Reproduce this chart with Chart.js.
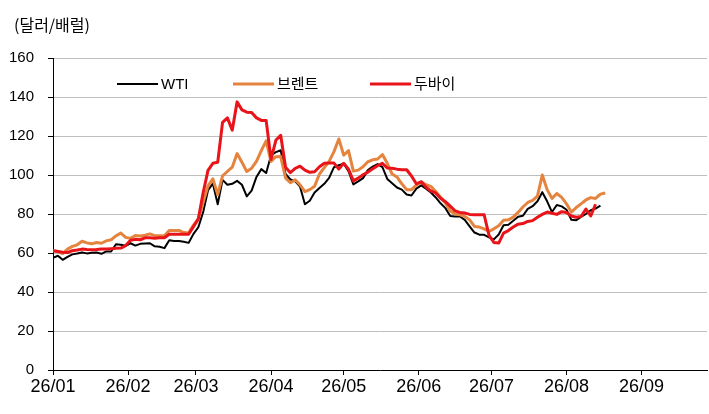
<!DOCTYPE html>
<html>
<head>
<meta charset="utf-8">
<script src="https://cdn.jsdelivr.net/npm/chart.js@4.4.1/dist/chart.umd.min.js"></script>
<style>
  html, body { margin: 0; padding: 0; background: #fff; }
  #wrap { width: 709px; height: 414px; }
</style>
</head>
<body>
<div id="wrap"><canvas id="oilChart" width="709" height="414"></canvas></div>
<script>
// 2026 daily prices (USD/bbl), sampled every 2 days
const dates = [
  '01-01','01-03','01-05','01-07','01-09','01-11','01-13','01-15','01-17','01-19','01-21','01-23','01-25','01-27','01-29','01-31',
  '02-02','02-04','02-06','02-08','02-10','02-12','02-14','02-16','02-18','02-20','02-22','02-24','02-26','02-28',
  '03-02','03-04','03-06','03-08','03-10','03-12','03-14','03-16','03-18','03-20','03-22','03-24','03-26','03-28','03-30',
  '04-01','04-03','04-05','04-07','04-09','04-11','04-13','04-15','04-17','04-19','04-21','04-23','04-25','04-27','04-29',
  '05-01','05-03','05-05','05-07','05-09','05-11','05-13','05-15','05-17','05-19','05-21','05-23','05-25','05-27','05-29','05-31',
  '06-02','06-04','06-06','06-08','06-10','06-12','06-14','06-16','06-18','06-20','06-22','06-24','06-26','06-28','06-30',
  '07-02','07-04','07-06','07-08','07-10','07-12','07-14','07-16','07-18','07-20','07-22','07-24','07-26','07-28','07-30',
  '08-01','08-03','08-05','08-07','08-09','08-11','08-13','08-15','08-17'
];

const wti = [
  57.5, 58.6, 56.5, 58, 59.3, 59.7, 60.3, 59.8, 60.1, 60.3, 59.6, 60.8, 60.8, 64.5, 64.2, 63.7,
  65.0, 63.8, 64.7, 64.9, 65.0, 63.4, 63.2, 62.5, 66.5, 66.2, 66.1, 65.8, 65.2, 69.8,
  73.2, 81, 92.2, 95.6, 85, 97.5, 95, 95.5, 97, 95, 89, 92, 99, 103, 101,
  110, 111.7, 112.7, 100.5, 97.7, 96.8, 94, 85, 86.8, 91, 93.3, 95.5, 98.5, 104, 105,
  105.8, 102, 95.2, 96.7, 98.4, 102.5, 104.3, 105.6, 104, 98, 95.8, 93.6, 92.5, 90, 89.5, 93,
  94.7, 93, 91, 88.5, 85.5, 83, 79, 78.7, 78.7, 77, 73.7, 70.5, 69.4, 69.3, 68,
  67, 69.5, 74.2, 74.5, 76.5, 78.6, 79.1, 82.6, 84, 86.5, 91.2, 86.5, 81, 84.6, 83.9,
  82.2, 77, 76.8, 78.5, 80, 81.9, 82.8, 84.3, null
];

const brent = [
  61.2, 60.8, 59.7, 62, 63.4, 64.2, 66, 65.2, 64.7, 65.4, 65, 66.2, 66.8, 68.8, 70.2, 68,
  67.5, 69, 68.7, 69.1, 69.8, 68.9, 68.8, 68.8, 71.6, 71.6, 71.6, 70.5, 70.3, 74.3,
  77.5, 86, 94.4, 98, 90, 99.5, 101.8, 104, 111, 106.5, 101.8, 103.5, 107, 112.5, 117.5,
  107, 109.4, 109.5, 98.5, 96, 97.5, 95, 91.5, 92.5, 94.2, 100.5, 103.8, 107, 112, 118.5,
  110.2, 112.5, 102, 102.5, 104.2, 106.8, 107.8, 108.2, 110.5, 106, 100.5, 99, 95.5, 92.5, 92.5, 94.8,
  96.5, 95, 94.2, 91.5, 88.6, 85.7, 81.6, 80, 79.6, 78.8, 77, 73.6, 73.3, 72.4, 71,
  72.4, 74, 76.8, 77, 78.4, 80.8, 83.6, 85.9, 87, 89.2, 100, 92.5, 88, 90.5, 88.5,
  85.2, 81, 83.3, 85.2, 87.2, 88.4, 88, 90.2, 90.8
];

const dubai = [
  61.2, 60.8, 60.4, 60.2, 61.2, 61.5, 62, 61.8, 61.7, 61.8, 62, 62, 62.2, 62.4, 62.5, 63.8,
  66.5, 67, 66.8, 67.8, 67.8, 67.6, 67.8, 67.8, 69.6, 69.6, 69.6, 69.6, 69.6, 73.5,
  77.5, 91, 102.4, 106, 106.5, 127, 129.3, 123, 137.5, 133.4, 132.2, 132, 129.3, 128, 128,
  108, 117.8, 120.4, 104, 101.2, 103.4, 104.5, 102.5, 101.4, 101.7, 104.2, 106, 106.1, 106.1, 103,
  106, 103, 97, 98.4, 100.1, 101.5, 103.2, 104.8, 106, 103.6, 103.5, 103, 102.7, 102.7, 99.5, 95.5,
  96.5, 93.8, 91.8, 90.8, 88.1, 86.3, 84, 81.6, 80.8, 80.5, 79.8, 79.6, 79.6, 79.6, 69,
  65.4, 65.1, 70.2, 71.5, 73.3, 74.8, 75.1, 76.2, 76.6, 78.3, 79.8, 81, 80.4, 79.8, 81.2,
  80.8, 79, 78.3, 78.7, 82.5, 79, 85, null, null
];

const tickDates = ['01-01', '02-01', '03-01', '04-01', '05-01', '06-01', '07-01', '08-01', '09-01'];
const tickLabels = ['26/01', '26/02', '26/03', '26/04', '26/05', '26/06', '26/07', '26/08', '26/09'];

// days since 2026-01-01
function dayOf(md) {
    const [m, d] = md.split('-').map(Number);
    return (Date.UTC(2026, m - 1, d) - Date.UTC(2026, 0, 1)) / 86400000;
}
const days = dates.map(dayOf);
const tickDays = tickDates.map(dayOf);
const toPoints = values => values.map((v, i) => ({ x: days[i], y: v }));

// title + legend inside the plot, like the original
const headerPlugin = {
    id: 'header',
    afterDraw(chart) {
        const ctx = chart.ctx;
        ctx.save();
        ctx.fillStyle = '#000';
        ctx.textBaseline = 'middle';
        ctx.font = '16px "Noto Sans CJK KR"';
        ctx.fillText('(달러/배럴)', 14, 25);

        const starts = [117, 233, 370];
        chart.data.datasets.forEach((ds, i) => {
            const x = starts[i], y = 84;
            ctx.strokeStyle = ds.borderColor;
            ctx.lineWidth = ds.borderWidth;
            ctx.beginPath();
            ctx.moveTo(x, y);
            ctx.lineTo(x + 41, y);
            ctx.stroke();
            ctx.font = '15px "Liberation Sans", "Noto Sans CJK KR"';
            ctx.fillText(ds.label, x + 44, y + 1);
        });
        ctx.restore();
    }
};

const ctx = document.getElementById('oilChart').getContext('2d');
const oilChart = new Chart(ctx, {
    type: 'line',
    data: {
        datasets: [
            { label: 'WTI', data: toPoints(wti), borderColor: '#000000', borderWidth: 2, order: 2 },
            { label: '브렌트', data: toPoints(brent), borderColor: '#E4843E', borderWidth: 3, order: 1 },
            { label: '두바이', data: toPoints(dubai), borderColor: '#E8141A', borderWidth: 3, order: 0 }
        ]
    },
    options: {
        responsive: false,
        animation: false,
        devicePixelRatio: 1,
        layout: { padding: { top: 58, right: 2, left: 0, bottom: 0 } },
        elements: {
            point: { radius: 0 },
            line: { tension: 0, borderJoinStyle: 'round' }
        },
        plugins: {
            legend: { display: false },
            tooltip: { enabled: false }
        },
        scales: {
            x: {
                type: 'linear',
                min: 0,
                max: 270,
                afterBuildTicks: scale => { scale.ticks = tickDays.map(v => ({ value: v })); },
                afterFit: scale => { scale.height = 44; },
                grid: { drawOnChartArea: false, drawTicks: true, tickLength: 5, tickColor: '#000' },
                border: { color: '#000', width: 1 },
                ticks: {
                    autoSkip: false,
                    maxRotation: 0,
                    padding: 1,
                    color: '#000',
                    font: { family: '"Liberation Sans Narrow", "Liberation Sans"', size: 18 },
                    callback: value => tickLabels[tickDays.indexOf(value)]
                }
            },
            y: {
                min: 0,
                max: 160,
                afterFit: scale => { scale.width = 53; },
                grid: { color: '#BFBFBF', tickColor: '#000', tickLength: 5 },
                border: { color: '#000', width: 1 },
                ticks: {
                    stepSize: 20,
                    padding: 14,
                    color: '#000',
                    font: { family: '"Liberation Sans"', size: 15 }
                }
            }
        }
    },
    plugins: [headerPlugin]
});
</script>
</body>
</html>
